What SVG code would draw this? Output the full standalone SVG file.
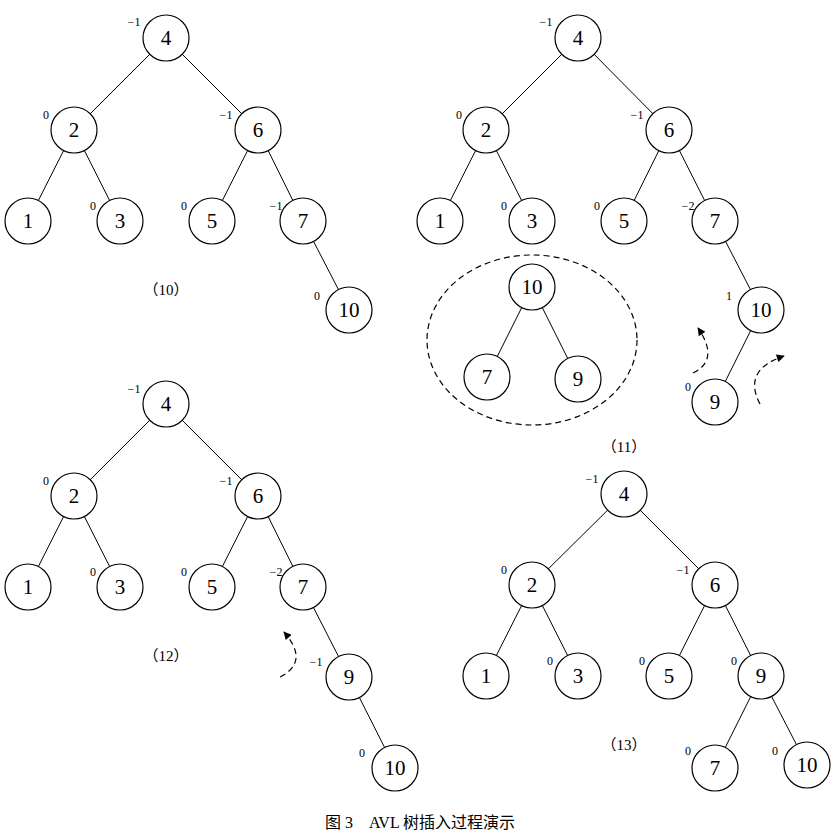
<svg xmlns="http://www.w3.org/2000/svg" width="840" height="839" viewBox="0 0 840 839">
<defs>
<style>
.n circle{fill:#fff;stroke:#000;stroke-width:1.2}
.n text{font-family:"Liberation Serif",serif;font-size:21px;text-anchor:middle;dominant-baseline:central}
.b{font-family:"Liberation Serif",serif;font-size:12px;text-anchor:middle}
.e line{stroke:#000;stroke-width:1}
.d{fill:none;stroke:#000;stroke-width:1.2;stroke-dasharray:6 4}
.cap{font-family:"Liberation Serif","Noto Sans CJK SC",serif;font-size:16px;text-anchor:middle}
</style>
<marker id="ah" viewBox="0 0 10 10" refX="9" refY="5" markerWidth="10" markerHeight="8" orient="auto" markerUnits="userSpaceOnUse"><path d="M0,0L10,5L0,10z"/></marker>
</defs>
<rect width="840" height="839" fill="#fff"/>
<g id="connectors" class="e">
<line x1="166" y1="38" x2="74" y2="130"/><line x1="166" y1="38" x2="258" y2="130"/><line x1="74" y1="130" x2="28" y2="221"/><line x1="74" y1="130" x2="120" y2="221"/><line x1="258" y1="130" x2="212" y2="221"/><line x1="258" y1="130" x2="303" y2="221"/><line x1="303" y1="221" x2="349" y2="310"/>
<line x1="578" y1="38" x2="486" y2="130"/><line x1="578" y1="38" x2="669" y2="130"/><line x1="486" y1="130" x2="440" y2="221"/><line x1="486" y1="130" x2="532" y2="221"/><line x1="669" y1="130" x2="624" y2="221"/><line x1="669" y1="130" x2="715" y2="221"/><line x1="715" y1="221" x2="761" y2="310"/><line x1="761" y1="310" x2="715" y2="402"/>
<line x1="532" y1="287" x2="487" y2="377"/><line x1="532" y1="287" x2="578" y2="379"/>
<line x1="166" y1="404" x2="74" y2="496"/><line x1="166" y1="404" x2="258" y2="496"/><line x1="74" y1="496" x2="28" y2="587"/><line x1="74" y1="496" x2="120" y2="587"/><line x1="258" y1="496" x2="212" y2="587"/><line x1="258" y1="496" x2="303" y2="587"/><line x1="303" y1="587" x2="349" y2="677"/><line x1="349" y1="677" x2="395" y2="768"/>
<line x1="624" y1="494" x2="532" y2="585"/><line x1="624" y1="494" x2="715" y2="585"/><line x1="532" y1="585" x2="486" y2="676"/><line x1="532" y1="585" x2="578" y2="676"/><line x1="715" y1="585" x2="669" y2="676"/><line x1="715" y1="585" x2="761" y2="676"/><line x1="761" y1="676" x2="715" y2="768"/><line x1="761" y1="676" x2="807" y2="765"/>
<ellipse cx="532" cy="340" rx="105" ry="85" class="d"/>
<path class="d" d="M693,373 Q720,360 698,328" marker-end="url(#ah)"/>
<path class="d" d="M760,404 Q742,370 784,356" marker-end="url(#ah)"/>
<path class="d" d="M280,677 Q310,662 284,632" marker-end="url(#ah)"/>
</g>
<g id="t10">
<g id="a4" class="n"><circle cx="166" cy="38" r="23"/><text x="166" y="38">4</text></g>
<g id="a2" class="n"><circle cx="74" cy="130" r="23"/><text x="74" y="130">2</text></g>
<g id="a6" class="n"><circle cx="258" cy="130" r="23"/><text x="258" y="130">6</text></g>
<g id="a1" class="n"><circle cx="28" cy="221" r="23"/><text x="28" y="221">1</text></g>
<g id="a3" class="n"><circle cx="120" cy="221" r="23"/><text x="120" y="221">3</text></g>
<g id="a5" class="n"><circle cx="212" cy="221" r="23"/><text x="212" y="221">5</text></g>
<g id="a7" class="n"><circle cx="303" cy="221" r="23"/><text x="303" y="221">7</text></g>
<g id="a10" class="n"><circle cx="349" cy="310" r="23"/><text x="349" y="310">10</text></g>
<text class="b" x="134" y="26">−1</text><text class="b" x="46" y="119">0</text><text class="b" x="226" y="119">−1</text><text class="b" x="93" y="210">0</text><text class="b" x="184" y="210">0</text><text class="b" x="276" y="210">−1</text><text class="b" x="317" y="300">0</text>
<text class="cap" x="166" y="295" style="font-size:15px">（10）</text>
</g>
<g id="t11">
<g id="b4" class="n"><circle cx="578" cy="38" r="23"/><text x="578" y="38">4</text></g>
<g id="b2" class="n"><circle cx="486" cy="130" r="23"/><text x="486" y="130">2</text></g>
<g id="b6" class="n"><circle cx="669" cy="130" r="23"/><text x="669" y="130">6</text></g>
<g id="b1" class="n"><circle cx="440" cy="221" r="23"/><text x="440" y="221">1</text></g>
<g id="b3" class="n"><circle cx="532" cy="221" r="23"/><text x="532" y="221">3</text></g>
<g id="b5" class="n"><circle cx="624" cy="221" r="23"/><text x="624" y="221">5</text></g>
<g id="b7" class="n"><circle cx="715" cy="221" r="23"/><text x="715" y="221">7</text></g>
<g id="b10" class="n"><circle cx="761" cy="310" r="23"/><text x="761" y="310">10</text></g>
<g id="b9" class="n"><circle cx="715" cy="402" r="23"/><text x="715" y="402">9</text></g>
<g id="c10" class="n"><circle cx="532" cy="287" r="23"/><text x="532" y="287">10</text></g>
<g id="c7" class="n"><circle cx="487" cy="377" r="23"/><text x="487" y="377">7</text></g>
<g id="c9" class="n"><circle cx="578" cy="379" r="23"/><text x="578" y="379">9</text></g>
<text class="b" x="546" y="26">−1</text><text class="b" x="459" y="119">0</text><text class="b" x="637" y="119">−1</text><text class="b" x="504" y="210">0</text><text class="b" x="597" y="210">0</text><text class="b" x="688" y="210">−2</text><text class="b" x="729" y="300">1</text><text class="b" x="688" y="391">0</text>
<text class="cap" x="624" y="452" style="font-size:15px">（11）</text>
</g>
<g id="t12">
<g id="d4" class="n"><circle cx="166" cy="404" r="23"/><text x="166" y="404">4</text></g>
<g id="d2" class="n"><circle cx="74" cy="496" r="23"/><text x="74" y="496">2</text></g>
<g id="d6" class="n"><circle cx="258" cy="496" r="23"/><text x="258" y="496">6</text></g>
<g id="d1" class="n"><circle cx="28" cy="587" r="23"/><text x="28" y="587">1</text></g>
<g id="d3" class="n"><circle cx="120" cy="587" r="23"/><text x="120" y="587">3</text></g>
<g id="d5" class="n"><circle cx="212" cy="587" r="23"/><text x="212" y="587">5</text></g>
<g id="d7" class="n"><circle cx="303" cy="587" r="23"/><text x="303" y="587">7</text></g>
<g id="d9" class="n"><circle cx="349" cy="677" r="23"/><text x="349" y="677">9</text></g>
<g id="d10" class="n"><circle cx="395" cy="768" r="23"/><text x="395" y="768">10</text></g>
<text class="b" x="134" y="393">−1</text><text class="b" x="46" y="485">0</text><text class="b" x="226" y="485">−1</text><text class="b" x="93" y="576">0</text><text class="b" x="184" y="576">0</text><text class="b" x="276" y="576">−2</text><text class="b" x="316" y="666">−1</text><text class="b" x="362" y="757">0</text>
<text class="cap" x="166" y="661" style="font-size:15px">（12）</text>
</g>
<g id="t13">
<g id="e4" class="n"><circle cx="624" cy="494" r="23"/><text x="624" y="494">4</text></g>
<g id="e2" class="n"><circle cx="532" cy="585" r="23"/><text x="532" y="585">2</text></g>
<g id="e6" class="n"><circle cx="715" cy="585" r="23"/><text x="715" y="585">6</text></g>
<g id="e1" class="n"><circle cx="486" cy="676" r="23"/><text x="486" y="676">1</text></g>
<g id="e3" class="n"><circle cx="578" cy="676" r="23"/><text x="578" y="676">3</text></g>
<g id="e5" class="n"><circle cx="669" cy="676" r="23"/><text x="669" y="676">5</text></g>
<g id="e9" class="n"><circle cx="761" cy="676" r="23"/><text x="761" y="676">9</text></g>
<g id="e7" class="n"><circle cx="715" cy="768" r="23"/><text x="715" y="768">7</text></g>
<g id="e10" class="n"><circle cx="807" cy="765" r="23"/><text x="807" y="765">10</text></g>
<text class="b" x="592" y="483">−1</text><text class="b" x="504" y="574">0</text><text class="b" x="683" y="574">−1</text><text class="b" x="550" y="665">0</text><text class="b" x="642" y="665">0</text><text class="b" x="734" y="665">0</text><text class="b" x="688" y="755">0</text><text class="b" x="775" y="755">0</text>
<text class="cap" x="624" y="750" style="font-size:15px">（13）</text>
</g>
<text class="cap" x="420" y="828">图 3　AVL  树插入过程演示</text>
</svg>
